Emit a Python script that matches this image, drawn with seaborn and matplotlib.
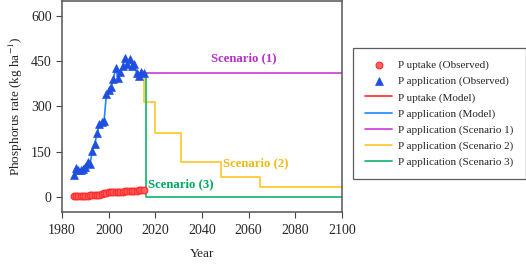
import numpy as np
import pandas as pd
import matplotlib
matplotlib.use("Agg")
import matplotlib.pyplot as plt
import seaborn as sns

years_obs = list(range(1985, 2016))
p_application = [72, 95, 88, 88, 92, 100, 115, 110, 152, 175, 210, 240, 248, 250, 340,
                 355, 365, 390, 427, 395, 415, 435, 462, 440, 458, 435, 440, 410, 400, 415, 410]
p_uptake = [2, 2, 2, 3, 3, 3, 3, 4, 4, 5, 6, 7, 9, 11, 13,
            14, 15, 16, 16, 16, 17, 17, 18, 18, 18, 19, 19, 20, 21, 22, 23]

# scenarios (step functions)
s1_years = [2015, 2100]
s1_vals = [412, 412]
s2_years = [2015, 2015, 2020, 2031, 2048, 2065, 2100]
s2_vals = [412, 315, 212, 114, 64, 31, 31]
s3_years = [2015, 2016, 2100]
s3_vals = [412, 0, 0]

c_red = "#FF2A2A"
c_blue_line = "#1E88FF"
c_blue_mk = "#1F4FE0"
c_mag = "#C83CD8"
c_yel = "#FFC626"
c_grn = "#10B36C"

sns.set_style("white")
plt.rcParams['font.family'] = ['Liberation Serif', 'DejaVu Serif']
plt.rcParams['mathtext.fontset'] = 'stix'

fig = plt.figure(figsize=(5.26, 2.64), dpi=100)
ax = fig.add_axes([0.118, 0.198, 0.532, 0.798])

obs = pd.DataFrame({"Year": years_obs, "app": p_application, "up": p_uptake})

sns.lineplot(data=obs, x="Year", y="up", color=c_red, lw=1.2, ax=ax, label="P uptake (Model)")
sns.lineplot(data=obs, x="Year", y="app", color=c_blue_line, lw=1.2, ax=ax, label="P application (Model)")
for yrs, vals, col, lab in [(s1_years, s1_vals, c_mag, "P application (Scenario 1)"),
                            (s2_years, s2_vals, c_yel, "P application (Scenario 2)"),
                            (s3_years, s3_vals, c_grn, "P application (Scenario 3)")]:
    sns.lineplot(x=yrs, y=vals, color=col, lw=1.2, ax=ax, sort=False, estimator=None,
                 drawstyle="steps-post", label=lab)
sns.scatterplot(data=obs, x="Year", y="up", marker="o", s=24, facecolor="#FF6060",
                edgecolor=c_red, linewidth=0.8, ax=ax, label="P uptake (Observed)", zorder=3)
sns.scatterplot(data=obs, x="Year", y="app", marker="^", s=32, color=c_blue_mk,
                edgecolor=c_blue_mk, linewidth=0.5, ax=ax, label="P application (Observed)", zorder=3)

ax.text(2058, 440, "Scenario (1)", color="#B530C8", fontsize=9.2, fontweight="bold", ha="center", va="bottom")
ax.text(2063, 90, "Scenario (2)", color="#F0BA10", fontsize=9.2, fontweight="bold", ha="center", va="bottom")
ax.text(2017, 22, "Scenario (3)", color="#00A860", fontsize=9.2, fontweight="bold", ha="left", va="bottom")

ax.set_xlim(1980, 2100)
ax.set_ylim(-50, 650)
ax.set_xticks(range(1980, 2101, 20))
ax.set_yticks([0, 150, 300, 450, 600])
ax.tick_params(axis="both", direction="out", length=4, width=0.8, labelsize=10, color="#444444")
ax.tick_params(axis="x", bottom=True, top=False, pad=5)
ax.tick_params(axis="y", left=True, right=False)
for s in ax.spines.values():
    s.set_color("#555555")
    s.set_linewidth(1.1)
ax.set_xlabel("Year", fontsize=9.5, labelpad=8)
ax.set_ylabel("Phosphorus rate (kg ha$^{-1}$)", fontsize=9.5, labelpad=4)

handles, labels = ax.get_legend_handles_labels()
order = ["P uptake (Observed)", "P application (Observed)", "P uptake (Model)",
         "P application (Model)", "P application (Scenario 1)",
         "P application (Scenario 2)", "P application (Scenario 3)"]
hmap = dict(zip(labels, handles))
ax.legend_.remove()
leg = fig.legend([hmap[l] for l in order], order, loc="upper left",
                 bbox_to_anchor=(0.671, 0.818), fontsize=8, frameon=True, fancybox=False,
                 edgecolor="#333333", handlelength=2.4, labelspacing=0.55,
                 borderpad=1.1, handletextpad=0.55, borderaxespad=0)
leg.get_frame().set_linewidth(0.9)

fig.savefig("out.png", dpi=100)
